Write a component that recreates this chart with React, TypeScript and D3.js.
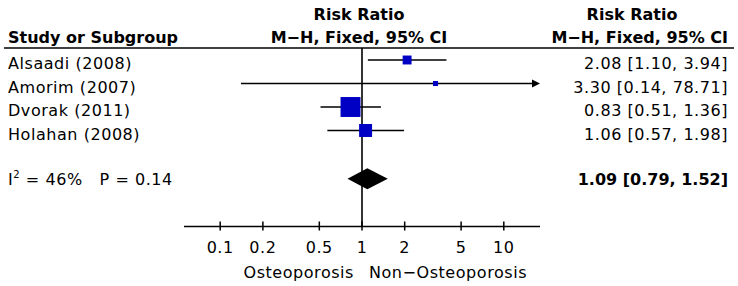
import React from "react";
import * as d3 from "d3";

const studies = ["Alsaadi (2008)", "Amorim (2007)", "Dvorak (2011)", "Holahan (2008)"];
const ratios = [2.08, 3.3, 0.83, 1.06];
const lowers = [1.1, 0.14, 0.51, 0.57];
const uppers = [3.94, 78.71, 1.36, 1.98];
const weights = [11.6, 3.7, 57.9, 24.5];
const pooled = { rr: 1.09, lo: 0.79, hi: 1.52 };
const tickValues = [0.1, 0.2, 0.5, 1, 2, 5, 10];
const tickLabels = ["0.1", "0.2", "0.5", "1", "2", "5", "10"];

const FONT = "'DejaVu Sans', Verdana, sans-serif";

export default function App() {
  const W = 738;
  const H = 286;
  const x = d3.scaleLog().domain([1 / 18, 18]).range([184, 540]);
  const [xMin, xMax] = x.range();
  const rowY = d3.scaleLinear().domain([0, 1]).range([60, 83.5]);
  const size = d3.scaleSqrt().domain([0, 60]).range([0, 20.3]);
  const axisY = 226.5;
  const summaryY = 178.7;
  const fmt = (v: number) => v.toFixed(2);
  const blue = "#0000c4";
  const reg = { fontFamily: FONT, fontSize: 16, letterSpacing: 0.55, fill: "#000" } as const;
  const bold = { fontFamily: FONT, fontSize: 16, fontWeight: "bold", fill: "#000" } as const;

  return (
    <svg width={W} height={H} style={{ position: "absolute", left: 0, top: 0, background: "#fff" }}>
      {/* headers */}
      <text x={8} y={42.5} {...bold}>Study or Subgroup</text>
      <text x={359} y={20} textAnchor="middle" {...bold}>Risk Ratio</text>
      <text x={359} y={42.5} textAnchor="middle" {...bold}>M−H, Fixed, 95% CI</text>
      <text x={632} y={20} textAnchor="middle" {...bold}>Risk Ratio</text>
      <text x={728} y={42.5} textAnchor="end" {...bold}>M−H, Fixed, 95% CI</text>
      <line x1={4} x2={734} y1={48} y2={48} stroke="#000" strokeWidth={1.6} />

      {/* vertical line of no effect */}
      <line x1={x(1)} x2={x(1)} y1={48} y2={axisY} stroke="#000" strokeWidth={1.6} />

      {/* studies */}
      {studies.map((s, i) => {
        const cy = rowY(i);
        const lo = Math.max(lowers[i], x.domain()[0]);
        const hiClipped = uppers[i] > x.domain()[1];
        const hi = Math.min(uppers[i], x.domain()[1]);
        const sz = size(weights[i]);
        return (
          <g key={s}>
            <text x={8} y={cy + 9} {...reg}>{s}</text>
            <line
              x1={x(lo)}
              x2={hiClipped ? x(hi) - 7 : x(hi)}
              y1={cy}
              y2={cy}
              stroke="#000"
              strokeWidth={1.5}
            />
            {hiClipped && (
              <path
                d={`M${x(hi)},${cy} L${x(hi) - 8},${cy - 4} L${x(hi) - 8},${cy + 4} Z`}
                fill="#000"
              />
            )}
            <rect x={x(ratios[i]) - sz / 2} y={cy - sz / 2} width={sz} height={sz} fill={blue} />
            <text x={728} y={cy + 9} textAnchor="end" {...reg}>
              {`${fmt(ratios[i])} [${fmt(lowers[i])}, ${fmt(uppers[i])}]`}
            </text>
          </g>
        );
      })}

      {/* summary */}
      <text x={8} y={summaryY + 6.5} {...reg} style={{ whiteSpace: "pre" }} xmlSpace="preserve">
        I<tspan fontSize={10} dy={-7}>2</tspan>
        <tspan dy={7}>{" = 46%   P = 0.14"}</tspan>
      </text>
      <path
        d={`M${x(pooled.lo)},${summaryY} L${x(pooled.rr)},${summaryY - 10.5} L${x(pooled.hi)},${summaryY} L${x(pooled.rr)},${summaryY + 10.5} Z`}
        fill="#000"
      />
      <text x={728} y={summaryY + 6.5} textAnchor="end" {...bold}>
        {`${fmt(pooled.rr)} [${fmt(pooled.lo)}, ${fmt(pooled.hi)}]`}
      </text>

      {/* axis */}
      <line x1={xMin} x2={xMax} y1={axisY} y2={axisY} stroke="#000" strokeWidth={1.6} />
      {tickValues.map((t, i) => (
        <g key={t}>
          <line x1={x(t)} x2={x(t)} y1={axisY - 5} y2={axisY + 4} stroke="#000" strokeWidth={1.5} />
          <text x={x(t)} y={253} textAnchor="middle" {...reg}>{tickLabels[i]}</text>
        </g>
      ))}
      <text x={x(1) - 8} y={278} textAnchor="end" {...reg}>Osteoporosis</text>
      <text x={x(1) + 7} y={278} textAnchor="start" {...reg}>Non−Osteoporosis</text>
    </svg>
  );
}
